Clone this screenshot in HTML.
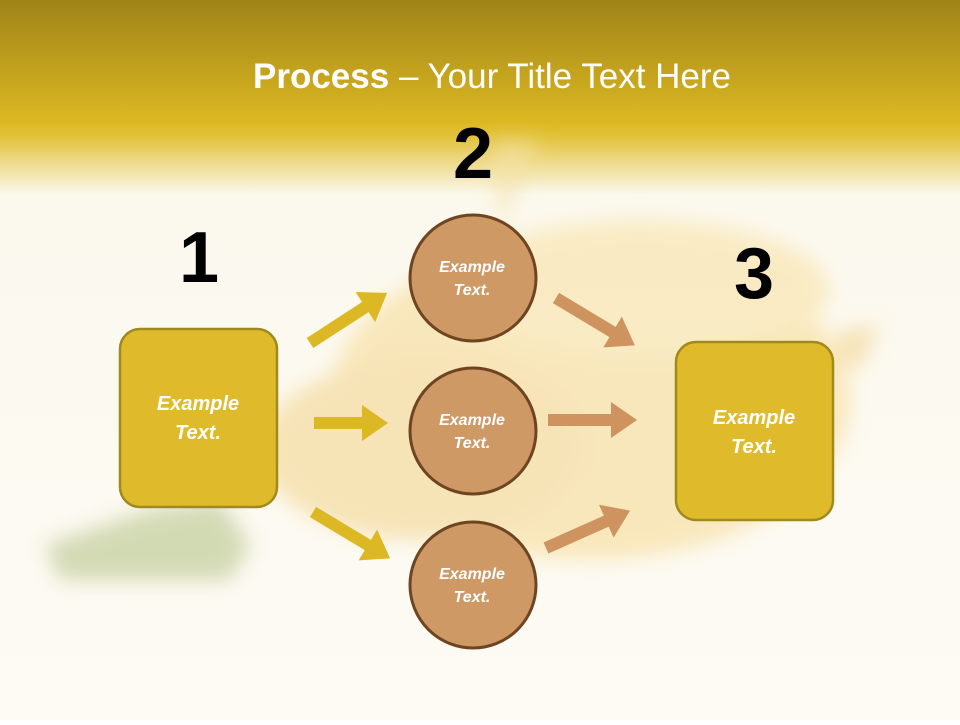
<!DOCTYPE html>
<html><head><meta charset="utf-8"><style>
body{margin:0;width:960px;height:720px;overflow:hidden;font-family:"Liberation Sans",sans-serif;}
</style></head><body>
<svg width="960" height="720" viewBox="0 0 960 720" xmlns="http://www.w3.org/2000/svg">
<defs>
<linearGradient id="bg" x1="0" y1="0" x2="0" y2="1">
<stop offset="0" stop-color="#9f8418"/>
<stop offset="0.17" stop-color="#dcb822"/>
<stop offset="0.19" stop-color="#e2c23a"/>
<stop offset="0.27" stop-color="#fbf8ee"/>
<stop offset="1" stop-color="#fdfbf4"/>
</linearGradient>
<filter id="bl"><feGaussianBlur stdDeviation="10"/></filter>
</defs>
<rect width="960" height="720" fill="url(#bg)"/>
<g filter="url(#bl)" opacity="0.6">
<ellipse cx="590" cy="400" rx="260" ry="160" fill="#f7dc98"/>
<ellipse cx="640" cy="290" rx="190" ry="70" fill="#f8e2a6"/>
<ellipse cx="420" cy="450" rx="160" ry="90" fill="#f3d590"/>
<path d="M840 330 L880 325 L860 370 L830 360 Z" fill="#f3d590"/>
<path d="M45 545 L150 510 L220 500 L250 545 L230 580 L60 580 Z" fill="#b7c58a"/>
<path d="M490 140 L540 140 L500 230 Z" fill="#f5e2a8"/>
</g>
<text x="492" y="88" text-anchor="middle" fill="#fff" font-size="35"><tspan font-weight="bold">Process</tspan> – Your Title Text Here</text>
<g font-weight="bold" font-size="72" fill="#000" text-anchor="middle">
<text x="199" y="282">1</text><text x="473" y="178">2</text><text x="754" y="298">3</text>
</g>
<rect x="120" y="329" width="157" height="178" rx="20" fill="#dfbb2c" stroke="#a08a1c" stroke-width="2.5"/>
<rect x="676" y="342" width="157" height="178" rx="20" fill="#dfbb2c" stroke="#a08a1c" stroke-width="2.5"/>
<g fill="#cf9966" stroke="#6e4520" stroke-width="3">
<circle cx="473" cy="278" r="63"/><circle cx="473" cy="431" r="63"/><circle cx="473" cy="585" r="63"/>
</g>
<g fill="#dcb824">
<g transform="translate(310,343) rotate(-33)"><polygon points="0,-6 66,-6 66,-18 92,0 66,18 66,6 0,6"/></g>
<g transform="translate(314,423)"><polygon points="0,-6 48,-6 48,-18 74,0 48,18 48,6 0,6"/></g>
<g transform="translate(313,512) rotate(31)"><polygon points="0,-6 64,-6 64,-18 90,0 64,18 64,6 0,6"/></g>
</g>
<g fill="#cf935f">
<g transform="translate(556,298) rotate(31)"><polygon points="0,-6 66,-6 66,-18 92,0 66,18 66,6 0,6"/></g>
<g transform="translate(548,420)"><polygon points="0,-6 63,-6 63,-18 89,0 63,18 63,6 0,6"/></g>
<g transform="translate(546,548) rotate(-24)"><polygon points="0,-6 66,-6 66,-18 92,0 66,18 66,6 0,6"/></g>
</g>
<g fill="#fff" font-weight="bold" font-style="italic" text-anchor="middle">
<g font-size="20"><text x="198" y="410">Example</text><text x="198" y="439">Text.</text>
<text x="754" y="424">Example</text><text x="754" y="453">Text.</text></g>
<g font-size="16"><text x="472" y="272">Example</text><text x="472" y="295">Text.</text>
<text x="472" y="425">Example</text><text x="472" y="448">Text.</text>
<text x="472" y="579">Example</text><text x="472" y="602">Text.</text></g>
</g>
</svg>
</body></html>
